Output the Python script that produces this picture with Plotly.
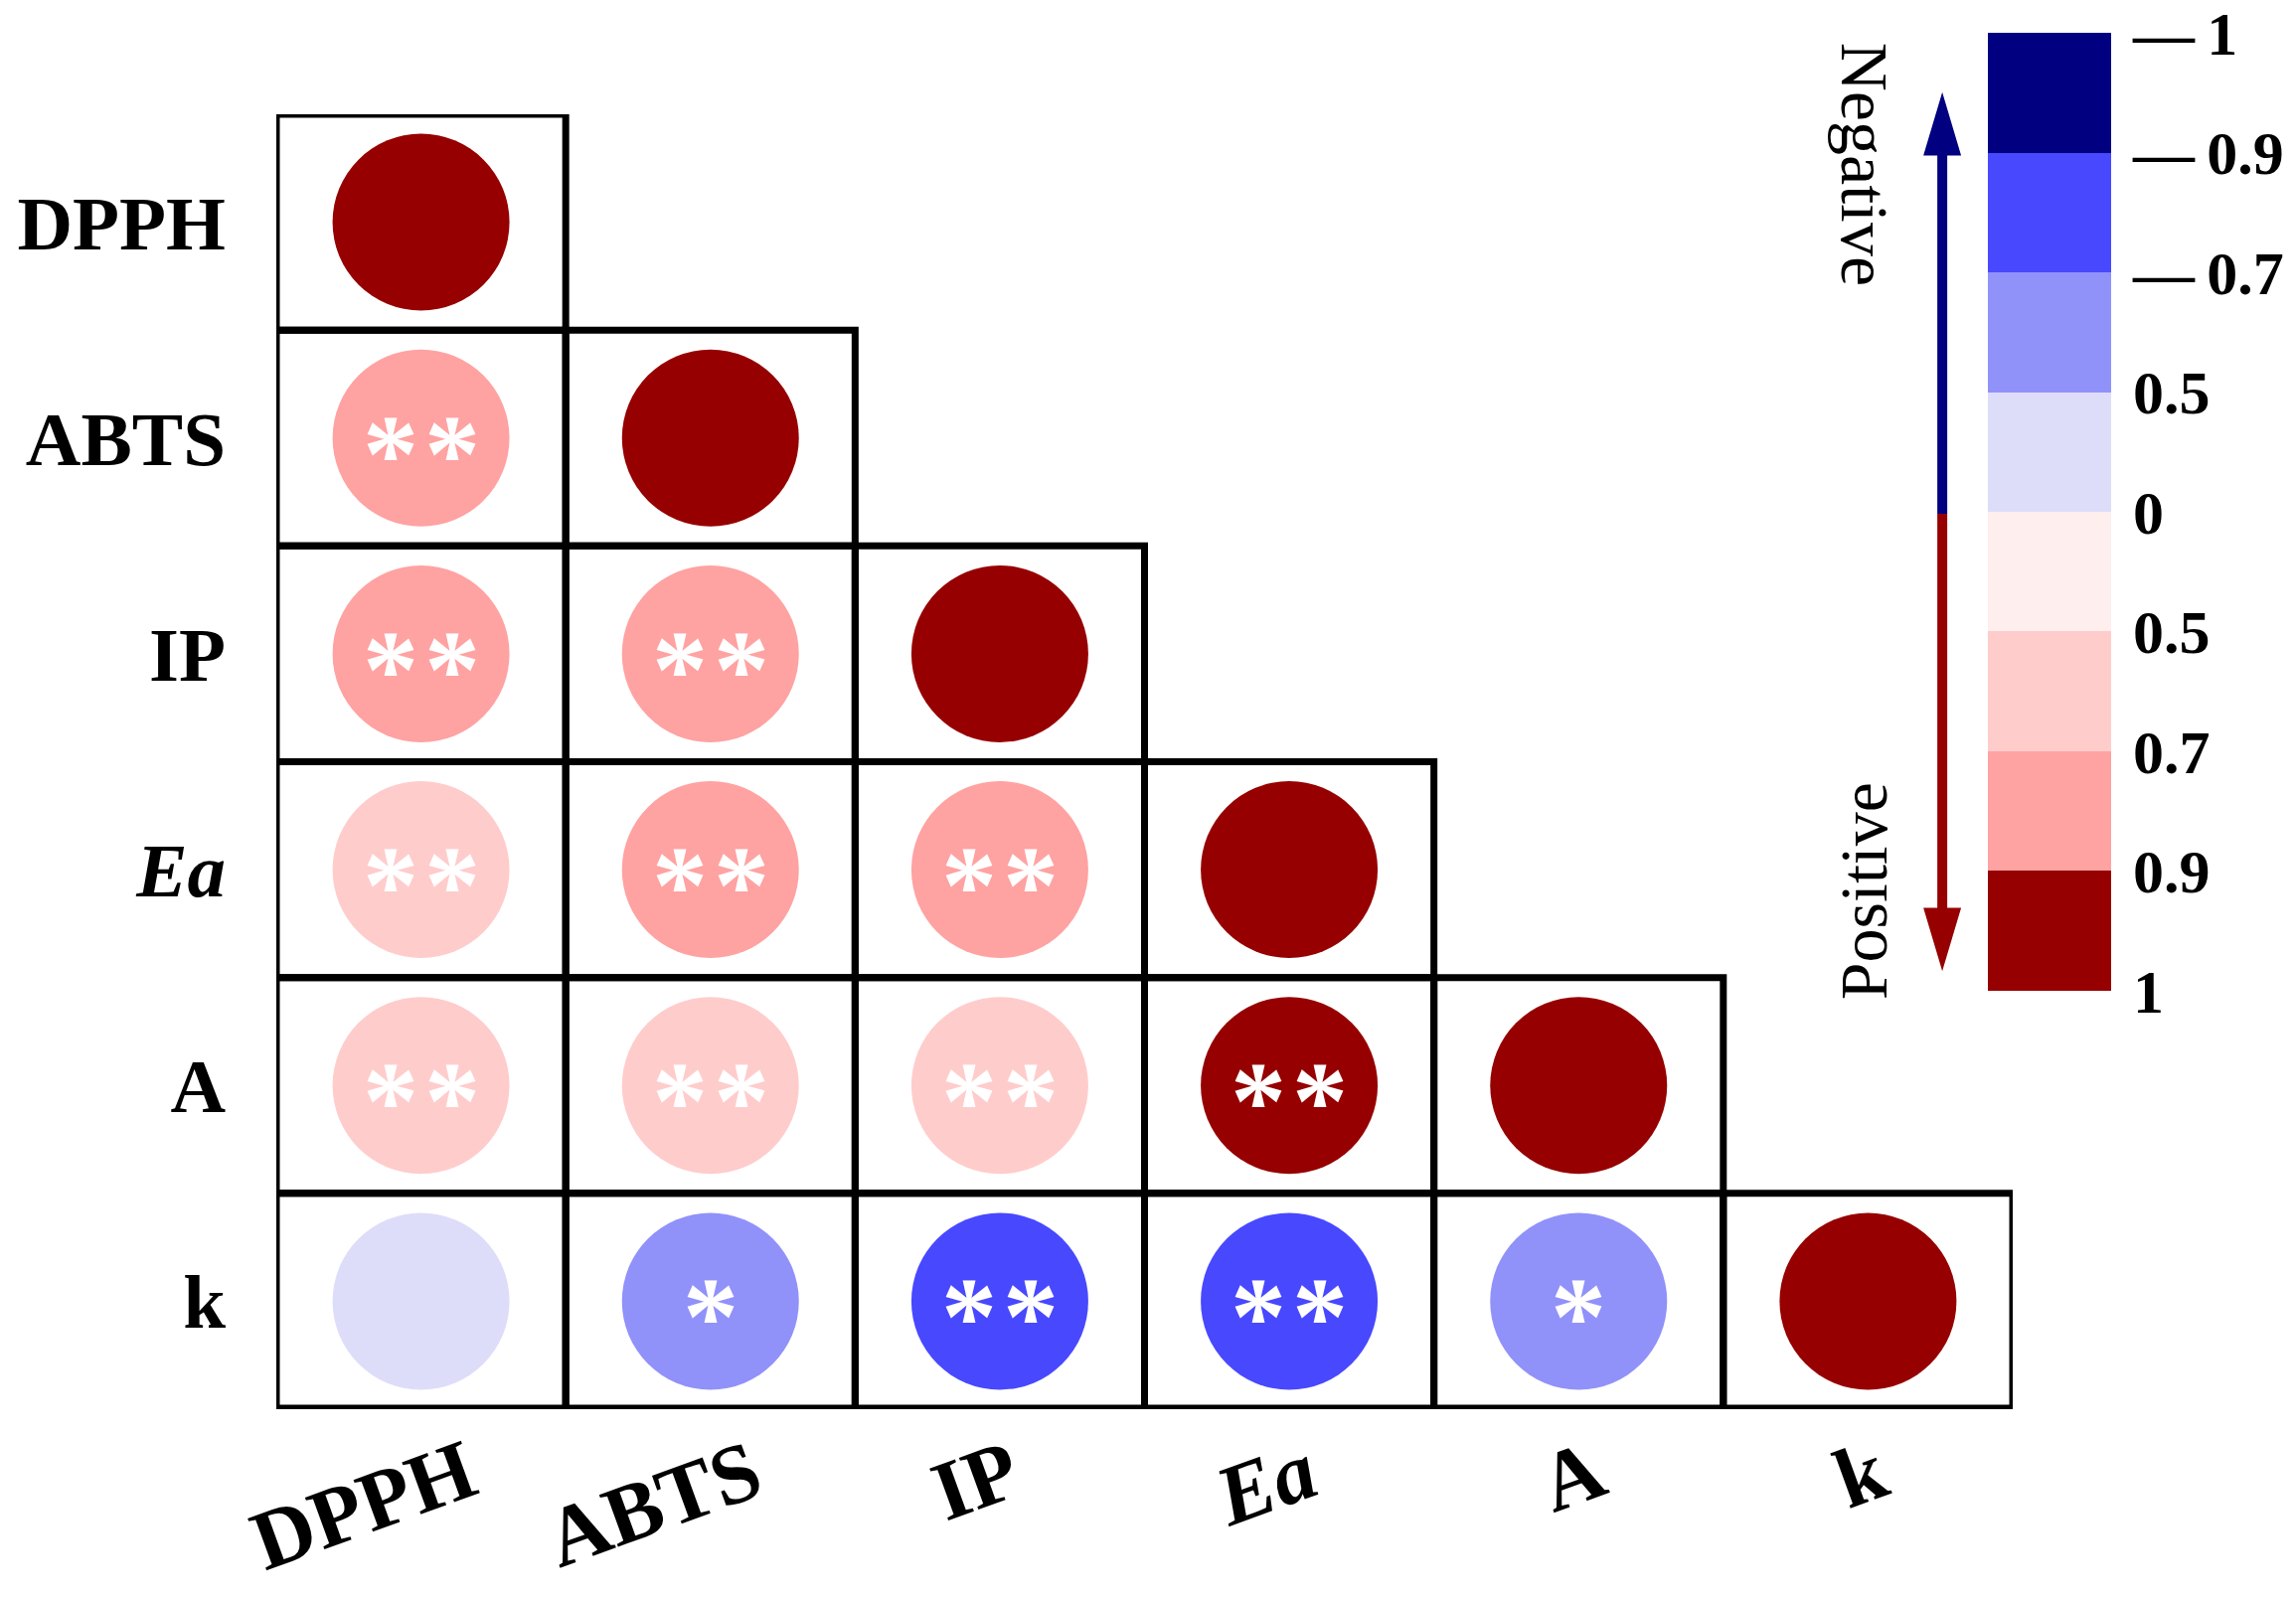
import numpy as np
import plotly.graph_objects as go

# ---------------- data ----------------
variables = ["DPPH", "ABTS", "IP", "Ea", "A", "k"]
var_labels = ["DPPH", "ABTS", "IP", "<i>Ea</i>", "A", "k"]

# lower-triangle correlation values, row by row (row variable vs column variable)
row_DPPH = [1.00]
row_ABTS = [0.82, 1.00]
row_IP = [0.84, 0.80, 1.00]
row_Ea = [0.66, 0.81, 0.83, 1.00]
row_A = [0.63, 0.62, 0.60, 0.95, 1.00]
row_k = [-0.35, -0.62, -0.83, -0.85, -0.60, 1.00]
corr_rows = [row_DPPH, row_ABTS, row_IP, row_Ea, row_A, row_k]

# significance marks
sig_DPPH = [""]
sig_ABTS = ["**", ""]
sig_IP = ["**", "**", ""]
sig_Ea = ["**", "**", "**", ""]
sig_A = ["**", "**", "**", "**", ""]
sig_k = ["", "*", "**", "**", "*", ""]
sig_rows = [sig_DPPH, sig_ABTS, sig_IP, sig_Ea, sig_A, sig_k]

# colour bar breaks (top -> bottom) and their labels
cb_breaks = [-1, -0.9, -0.7, -0.5, 0, 0.5, 0.7, 0.9, 1]
cb_labels = ["\u2014\u20091", "\u2014\u20090.9", "\u2014\u20090.7", "0.5", "0",
             "0.5", "0.7", "0.9", "1"]
band_colors = ["#000080", "#4848FF", "#9191FA", "#DDDDFA",
               "#FFEEEE", "#FFCCCC", "#FFA2A2", "#960000"]  # top -> bottom

# ---------------- geometry helpers ----------------
W, H = 2310, 1607
L, R, T, B = 278, 2028, 115, 1418
FONT = "'Liberation Serif', 'Times New Roman', Times, serif"


def px2x(p):
    return (p - L) / (R - L)


def px2y(p):
    return (B - p) / (B - T)


n = len(variables)
# position along the (stepped) colour bar: 0 at bottom (r=1), 8 at top (r=-1)
band_pos = list(range(len(cb_breaks) - 1, -1, -1))

xs, ys, cs = [], [], []
for i, row in enumerate(corr_rows):
    for j, r in enumerate(row):
        xs.append(j + 0.5)
        ys.append(i + 0.5)
        cs.append(float(np.interp(r, cb_breaks, band_pos)))

nb = len(band_colors)
colorscale = []
for k, col in enumerate(band_colors[::-1]):
    colorscale.append([k / nb, col])
    colorscale.append([(k + 1) / nb, col])

tick_positions = [min(v, nb - 0.001) for v in band_pos]

fig = go.Figure()
fig.add_trace(go.Scatter(
    x=xs, y=ys, mode="markers",
    marker=dict(
        size=178, symbol="circle", color=cs, colorscale=colorscale,
        cmin=0, cmax=nb, line=dict(width=0),
        colorbar=dict(
            x=px2x(2003), xanchor="left", xref="paper", xpad=0,
            y=px2y(33), yanchor="top", ypad=0,
            thickness=124, thicknessmode="pixels",
            len=964, lenmode="pixels",
            outlinewidth=0,
            tickvals=tick_positions,
            ticktext=cb_labels,
            ticklabeloverflow="allow",
            ticks="outside", ticklen=10, tickcolor="rgba(0,0,0,0)",
            tickfont=dict(family=FONT, size=62, color="black", weight="bold"),
        ),
    ),
    hoverinfo="skip", showlegend=False,
))

shapes = []
# cells of the lower triangle
for i in range(n):
    for j in range(i + 1):
        shapes.append(dict(type="rect", xref="x", yref="y",
                           x0=j, x1=j + 1, y0=i, y1=i + 1,
                           line=dict(color="black", width=7), layer="above"))
# little left overhangs and thicker bottom line
for i in range(n):
    shapes.append(dict(type="line", xref="x", yref="y", x0=-0.025, x1=0,
                       y0=i, y1=i, line=dict(color="black", width=7)))
shapes.append(dict(type="line", xref="x", yref="y", x0=-0.025, x1=n,
                   y0=n, y1=n, line=dict(color="black", width=9)))

# direction arrows beside the colour bar
ax_x = px2x(1957)
mid_y = px2y(517)
blue, red = "#000080", "#960000"
shapes.append(dict(type="line", xref="paper", yref="paper", x0=ax_x, x1=ax_x,
                   y0=mid_y, y1=px2y(150), line=dict(color=blue, width=10)))
shapes.append(dict(type="line", xref="paper", yref="paper", x0=ax_x, x1=ax_x,
                   y0=mid_y, y1=px2y(920), line=dict(color=red, width=10)))
hw = 17 / (R - L)
shapes.append(dict(type="path", xref="paper", yref="paper",
                   path=f"M {ax_x - hw} {px2y(155)} L {ax_x} {px2y(98)} L {ax_x + hw} {px2y(155)} Z",
                   fillcolor=blue, line=dict(color=blue, width=3)))
shapes.append(dict(type="path", xref="paper", yref="paper",
                   path=f"M {ax_x - hw} {px2y(915)} L {ax_x} {px2y(972)} L {ax_x + hw} {px2y(915)} Z",
                   fillcolor=red, line=dict(color=red, width=3)))

annotations = []
# significance stars
for i, row in enumerate(sig_rows):
    for j, s in enumerate(row):
        if not s:
            continue
        offsets = [0] if len(s) == 1 else [-31, 31]
        for off in offsets:
            annotations.append(dict(
                x=j + 0.5, y=i + 0.5, xref="x", yref="y", text="*",
                showarrow=False, xshift=off, yshift=-16,
                xanchor="center", yanchor="middle",
                font=dict(family=FONT, size=112, color="white", weight="bold"),
            ))
# rotated x labels
for j, lab in enumerate(var_labels):
    annotations.append(dict(
        x=j + 0.5, y=px2y(1428), xref="x", yref="paper", text=lab,
        showarrow=False, textangle=-20, xanchor="center", yanchor="top",
        xshift=10 - 17 * len(variables[j]),
        font=dict(family=FONT, size=85, color="black", weight="bold"),
    ))
# Negative / Positive
annotations.append(dict(x=px2x(1879), y=px2y(165), xref="paper", yref="paper",
                        text="Negative", textangle=90, showarrow=False,
                        xanchor="center", yanchor="middle",
                        font=dict(family=FONT, size=68, color="black")))
annotations.append(dict(x=px2x(1878), y=px2y(897), xref="paper", yref="paper",
                        text="Positive", textangle=-90, showarrow=False,
                        xanchor="center", yanchor="middle",
                        font=dict(family=FONT, size=68, color="black")))

fig.update_layout(
    width=W, height=H, autosize=False,
    margin=dict(l=L, r=W - R, t=T, b=H - B, pad=0),
    paper_bgcolor="white", plot_bgcolor="white",
    shapes=shapes, annotations=annotations,
    xaxis=dict(range=[0, n], showgrid=False, zeroline=False, showline=False,
               showticklabels=False, ticks="", fixedrange=True),
    yaxis=dict(range=[n, 0], showgrid=False, zeroline=False, showline=False,
               tickmode="array", tickvals=[i + 0.5 for i in range(n)],
               ticktext=var_labels, ticks="", ticklabelstandoff=50,
               tickfont=dict(family=FONT, size=77, color="black", weight="bold"),
               fixedrange=True),
)

fig.write_html("out.html", config={"displayModeBar": False},
               post_script="document.body.style.margin='0px';")
